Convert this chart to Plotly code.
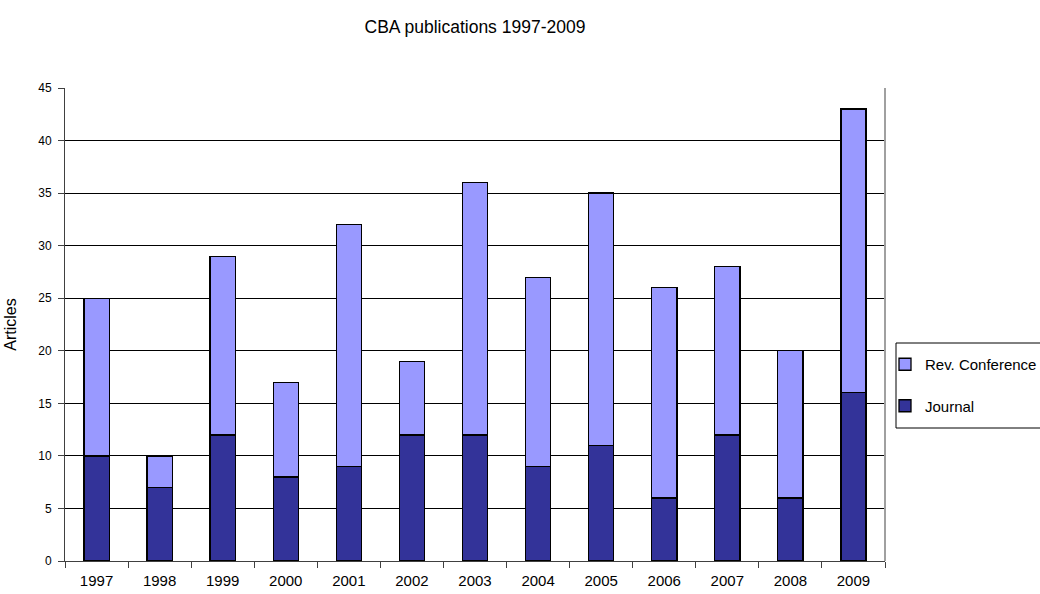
import plotly.graph_objects as go

years = ["1997", "1998", "1999", "2000", "2001", "2002", "2003", "2004", "2005", "2006", "2007", "2008", "2009"]
journal = [10, 7, 12, 8, 9, 12, 12, 9, 11, 6, 12, 6, 16]
conference = [15, 3, 17, 9, 23, 7, 24, 18, 24, 20, 16, 14, 27]

FONT = "Liberation Sans, Arial, sans-serif"

fig = go.Figure()
fig.add_trace(go.Bar(x=years, y=journal, name="Journal", legendgroup="j", legendrank=2,
                     marker=dict(color="#333399", line=dict(color="black", width=1.3))))
fig.add_trace(go.Bar(x=years, y=conference, name="Rev. Conference", legendgroup="c", legendrank=1,
                     marker=dict(color="#9999FF", line=dict(color="black", width=1.3))))

fig.update_layout(
    barmode="stack",
    bargap=0.6,
    width=1040, height=594,
    margin=dict(l=65, r=155, t=88, b=33, autoexpand=False),
    paper_bgcolor="white", plot_bgcolor="white",
    font=dict(family=FONT, color="black"),
    title=dict(text="CBA publications 1997-2009", x=0.5, xref="paper", y=0.955, yanchor="middle",
               font=dict(size=17.5, family=FONT, color="black")),
    legend=dict(xref="container", yref="container", x=885 / 1040, y=1 - 348 / 594,
                xanchor="left", yanchor="top",
                traceorder="grouped", tracegroupgap=19,
                borderwidth=0, bgcolor="rgba(0,0,0,0)",
                font=dict(size=15, family=FONT, color="black")),
    xaxis=dict(type="category", tickson="boundaries", ticks="outside", ticklen=6,
               tickcolor="#404040", showline=True, linecolor="#404040", linewidth=1,
               tickfont=dict(size=15, family=FONT), ticklabelstandoff=6, showgrid=False,
               automargin=False),
    yaxis=dict(range=[0, 45], dtick=5, ticks="outside", ticklen=6, tickcolor="#404040",
               showline=True, linecolor="#404040", linewidth=1,
               showgrid=True, gridcolor="black", gridwidth=1,
               tickfont=dict(size=12, family=FONT), ticklabelstandoff=4, automargin=False,
               title=dict(text="Articles", font=dict(size=16, family=FONT), standoff=17)),
)
fig.add_shape(type="line", xref="paper", yref="paper", x0=1, x1=1, y0=0, y1=1,
              line=dict(color="#a0a0a0", width=2))
fig.add_shape(type="rect", xref="paper", yref="paper",
              x0=(896 - 65) / 820, x1=(1050 - 65) / 820,
              y0=(561 - 428) / 473, y1=(561 - 343) / 473,
              line=dict(color="black", width=1), fillcolor="rgba(0,0,0,0)", layer="below")

fig.write_html("out.html")
